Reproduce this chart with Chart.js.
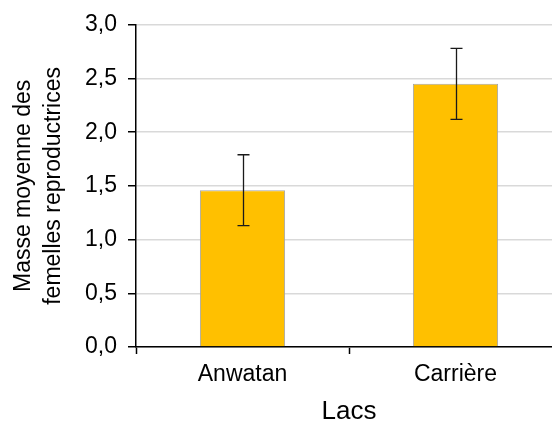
<!DOCTYPE html>
<html>
<head>
<meta charset="utf-8">
<script src="https://cdn.jsdelivr.net/npm/chart.js@4.4.0/dist/chart.umd.min.js"></script>
<style>
  html, body { margin: 0; padding: 0; background: #fff; overflow: hidden; }
  #wrap { width: 552px; height: 425px; overflow: hidden; }
</style>
</head>
<body>
<div id="wrap"><canvas id="chart" width="562" height="425"></canvas></div>
<script>
const lakes = ['Anwatan', 'Carrière'];
const meanMass = [1.46, 2.45];
const errMass = [0.33, 0.33];
const yTicks = [0, 0.5, 1, 1.5, 2, 2.5, 3];

const FONT = "'Liberation Sans', Arial, sans-serif";

// error bars drawn through the y scale
const errorBars = {
  id: 'errorBars',
  afterDatasetsDraw(chart) {
    const { ctx, scales: { y } } = chart;
    const meta = chart.getDatasetMeta(0);
    ctx.save();
    ctx.strokeStyle = '#1a1a1a';
    ctx.lineWidth = 1.3;
    meta.data.forEach((bar, i) => {
      const v = meanMass[i], e = errMass[i];
      const yTop = y.getPixelForValue(v + e);
      const yBot = y.getPixelForValue(v - e);
      const x = Math.round(bar.x) + 0.5;
      ctx.beginPath();
      ctx.moveTo(x, yTop); ctx.lineTo(x, yBot);
      ctx.moveTo(x - 6, yTop); ctx.lineTo(x + 6, yTop);
      ctx.moveTo(x - 6, yBot); ctx.lineTo(x + 6, yBot);
      ctx.stroke();
    });
    ctx.restore();
  }
};

new Chart(document.getElementById('chart'), {
  type: 'bar',
  data: {
    labels: lakes,
    datasets: [{
      data: meanMass,
      backgroundColor: '#FFC000',
      borderColor: '#a6a6a6',
      borderWidth: 1,
      categoryPercentage: 1,
      barPercentage: 0.4
    }]
  },
  options: {
    responsive: false,
    animation: false,
    layout: { padding: { top: 23, left: 0, right: 0, bottom: 0 } },
    plugins: { legend: { display: false }, tooltip: { enabled: false } },
    scales: {
      x: {
        afterFit(scale) { scale.height = 78; },
        grid: { offset: true, drawOnChartArea: false, tickLength: 7, tickColor: '#000', tickWidth: 1.5 },
        border: { color: '#000', width: 1.5 },
        ticks: { color: '#000', padding: 7, font: { family: FONT, size: 23 } },
        title: {
          display: true, text: 'Lacs', color: '#000',
          font: { family: FONT, size: 26, lineHeight: 1 },
          padding: { top: 0, bottom: 0 }
        }
      },
      y: {
        min: 0, max: 3,
        afterFit(scale) { scale.width = 136; },
        afterBuildTicks(scale) { scale.ticks = yTicks.map(v => ({ value: v })); },
        grid: { color: '#d9d9d9', lineWidth: 1.5, tickColor: '#000', tickLength: 8, tickWidth: 1.5 },
        border: { color: '#000', width: 1.5 },
        ticks: {
          color: '#000', padding: 11,
          font: { family: FONT, size: 23 },
          callback: v => v.toFixed(1).replace('.', ',')
        },
        title: {
          display: true,
          text: ['Masse moyenne des', 'femelles reproductrices'],
          color: '#000',
          font: { family: FONT, size: 23, lineHeight: 1.3 },
          padding: { top: 9, bottom: 0 }
        }
      }
    }
  },
  plugins: [errorBars]
});
</script>
</body>
</html>
